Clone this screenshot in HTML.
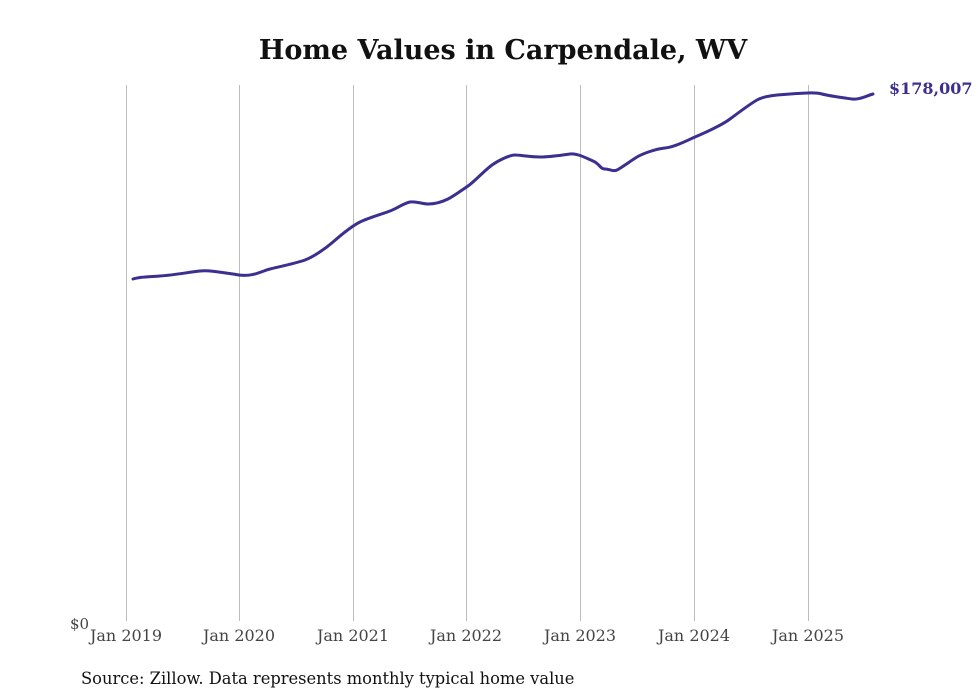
<!DOCTYPE html>
<html><head><meta charset="utf-8"><style>
body{margin:0;background:#fff;}
svg{display:block;}
text{font-family:"DejaVu Serif","Liberation Serif",serif;}
</style></head><body>
<svg width="980" height="699" viewBox="0 0 980 699">
<rect width="980" height="699" fill="#fff"/>
<text x="503" y="59" text-anchor="middle" font-size="27" font-weight="bold" fill="#111">Home Values in Carpendale, WV</text>
<g stroke="#bdbdbd" stroke-width="1">
<line x1="126.5" y1="85" x2="126.5" y2="621"/>
<line x1="239.5" y1="85" x2="239.5" y2="621"/>
<line x1="353.5" y1="85" x2="353.5" y2="621"/>
<line x1="466.5" y1="85" x2="466.5" y2="621"/>
<line x1="580.5" y1="85" x2="580.5" y2="621"/>
<line x1="694.5" y1="85" x2="694.5" y2="621"/>
<line x1="808.5" y1="85" x2="808.5" y2="621"/>
</g>
<g font-size="16" fill="#444" text-anchor="middle">
<text x="126" y="641">Jan 2019</text>
<text x="239" y="641">Jan 2020</text>
<text x="353" y="641">Jan 2021</text>
<text x="466" y="641">Jan 2022</text>
<text x="580" y="641">Jan 2023</text>
<text x="694" y="641">Jan 2024</text>
<text x="808" y="641">Jan 2025</text>
</g>
<text x="70" y="629" font-size="15" fill="#444">$0</text>
<path fill="none" stroke="#3b2f8f" stroke-width="3" stroke-linejoin="round" stroke-linecap="round"
d="M133,279 C139,277 145,277 160,276 S190,272 200,271 S225,273 239,275 S262,271 270,269 S297,263 305,260 S325,249 333,242 S352,226 360,222 S382,214 390,211 S404,203 410,202 S422,204 428,204 S442,202 448,199 S462,190 468,186 S485,170 492,165 S510,155 515,155 S530,157 540,157 S563,155 570,154 S586,158 593,161 S600,169 605,169 S613,172 617,170 S632,160 637,157 S655,149 665,148 S688,140 695,137 S722,125 730,119 S750,104 757,100 S775,95 790,94 S815,92 822,94 S845,98 852,99 S866,96 873,94"/>
<text x="889" y="94" font-size="16" font-weight="bold" fill="#3b2f8f">$178,007</text>
<text x="81" y="684" font-size="16.3" fill="#111">Source: Zillow. Data represents monthly typical home value</text>
</svg>
</body></html>
